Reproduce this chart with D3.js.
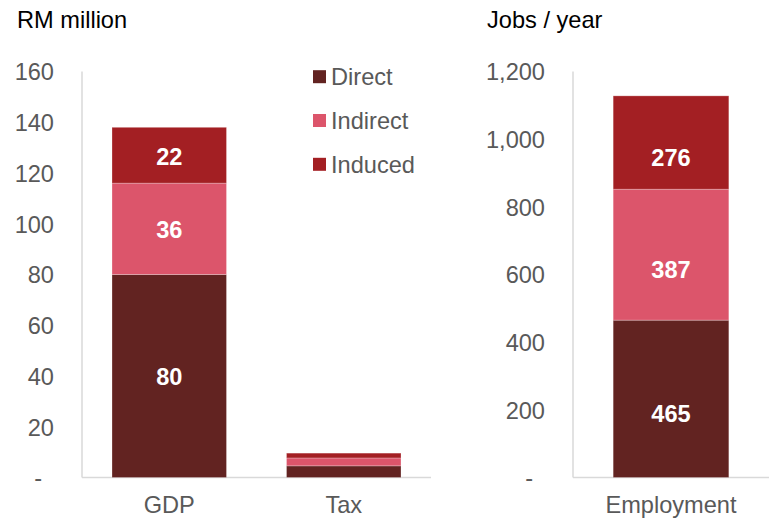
<!DOCTYPE html>
<html>
<head>
<meta charset="utf-8">
<script src="https://cdn.jsdelivr.net/npm/d3@7"></script>
<style>
  html, body { margin: 0; padding: 0; background: #fff; }
  svg { display: block; font-family: "Liberation Sans", Arial, sans-serif; }
</style>
</head>
<body>
<svg id="chart" width="772" height="518"></svg>
<script>
// Economic impact, split by effect type
const seriesNames = ["Direct", "Indirect", "Induced"];
const seriesColors = ["#622321", "#dc556b", "#a31f23"];

// Left panel: RM million
const moneyCategories = ["GDP", "Tax"];
const moneyDirect   = [80, 4.6];
const moneyIndirect = [36, 3.1];
const moneyInduced  = [22, 1.9];
const moneyShowLabels = [true, false];
const moneyTicks = [0, 20, 40, 60, 80, 100, 120, 140, 160];

// Right panel: jobs per year
const jobCategories = ["Employment"];
const jobDirect   = [465];
const jobIndirect = [387];
const jobInduced  = [276];
const jobShowLabels = [true];
const jobTicks = [0, 200, 400, 600, 800, 1000, 1200];

const svg = d3.select("#chart");
const y0 = 477.5, yTop = 71.5;
const textGrey = "#595959";
const axisGrey = "#d9d9d9";
const fs = 23.6;

function panel(opts) {
  const { categories, direct, indirect, induced, showLabels, ticks, max,
          x0, x1, padding, title, titleX, fmt, labelShift } = opts;
  const g = svg.append("g");

  const x = d3.scaleBand().domain(categories).range([x0, x1])
    .paddingInner(padding).paddingOuter(padding / 2);
  const y = d3.scaleLinear().domain([0, max]).range([y0, yTop]);

  // title above the axis
  g.append("text").attr("x", titleX).attr("y", 28)
    .attr("font-size", fs).attr("fill", "#000").text(title);

  // value axis labels
  const yAxis = d3.axisLeft(y).tickValues(ticks).tickSize(0).tickPadding(0)
    .tickFormat(d => d === 0 ? "-" : fmt(d));
  const ya = g.append("g").attr("transform", `translate(${x0 - 28},0)`).call(yAxis);
  ya.select(".domain").remove();
  ya.selectAll("text")
    .attr("font-size", fs).attr("fill", textGrey)
    .attr("font-family", "'Liberation Sans', Arial, sans-serif")
    .attr("dy", "0.35em")
    .attr("dx", d => d === 0 ? -12 : 0);

  // axis lines
  g.append("line").attr("x1", x0).attr("x2", x0).attr("y1", yTop).attr("y2", y0)
    .attr("stroke", axisGrey).attr("stroke-width", 1.5);
  g.append("line").attr("x1", x0).attr("x2", x1).attr("y1", y0).attr("y2", y0)
    .attr("stroke", axisGrey).attr("stroke-width", 1.5);

  // stacked bars
  const rows = categories.map((c, i) => ({
    cat: c, Direct: direct[i], Indirect: indirect[i], Induced: induced[i], show: showLabels[i]
  }));
  const stacked = d3.stack().keys(seriesNames)(rows);
  stacked.forEach((layer, li) => {
    const lg = g.append("g");
    lg.selectAll("rect").data(layer).join("rect")
      .attr("x", d => x(d.data.cat))
      .attr("width", x.bandwidth())
      .attr("y", d => y(d[1]))
      .attr("height", d => y(d[0]) - y(d[1]))
      .attr("fill", seriesColors[li])
      .attr("stroke", "#fff").attr("stroke-opacity", 0.25).attr("stroke-width", 1);
    lg.selectAll("text").data(layer.filter(d => d.data.show)).join("text")
      .attr("x", d => x(d.data.cat) + x.bandwidth() / 2)
      .attr("y", d => (y(d[0]) + y(d[1])) / 2 + labelShift)
      .attr("dy", "0.36em")
      .attr("text-anchor", "middle")
      .attr("font-size", fs).attr("font-weight", "bold").attr("fill", "#fff")
      .text(d => fmt(d[1] - d[0]));
  });

  // category labels
  g.selectAll(".cat").data(categories).join("text")
    .attr("x", d => x(d) + x.bandwidth() / 2)
    .attr("y", 513)
    .attr("text-anchor", "middle")
    .attr("font-size", fs).attr("fill", textGrey)
    .text(d => d);
}

panel({
  categories: moneyCategories, direct: moneyDirect, indirect: moneyIndirect,
  induced: moneyInduced, showLabels: moneyShowLabels, ticks: moneyTicks, max: 160,
  x0: 82, x1: 431, padding: 0.344, title: "RM million", titleX: 17,
  fmt: d3.format(",.0f"), labelShift: 1
});

panel({
  categories: jobCategories, direct: jobDirect, indirect: jobIndirect,
  induced: jobInduced, showLabels: jobShowLabels, ticks: jobTicks, max: 1200,
  x0: 573, x1: 769, padding: 0.41, title: "Jobs / year", titleX: 487,
  fmt: d3.format(",.0f"), labelShift: 15
});

// legend
const legend = svg.append("g");
const legY = d3.scalePoint().domain(seriesNames).range([76.7, 164.3]);
seriesNames.forEach((name, i) => {
  legend.append("rect").attr("x", 313).attr("y", legY(name) - 6.5)
    .attr("width", 13).attr("height", 13).attr("fill", seriesColors[i]);
  legend.append("text").attr("x", 331).attr("y", legY(name)).attr("dy", "0.36em")
    .attr("font-size", fs).attr("fill", textGrey).text(name);
});
</script>
</body>
</html>
